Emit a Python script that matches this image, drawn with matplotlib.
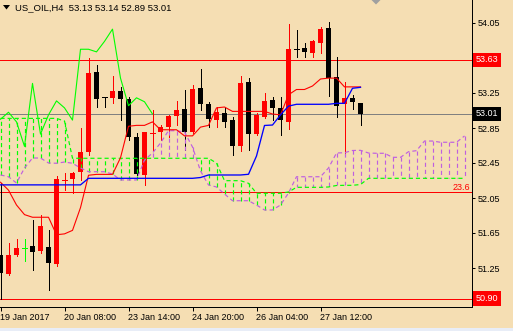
import matplotlib.pyplot as plt
from matplotlib.patches import Polygon, Rectangle

plt.rcParams['font.family'] = ['Liberation Sans', 'DejaVu Sans']

# H4 candles, bar 0 = left edge of the chart
opens = [51.40, 51.18, 51.40, 51.48, 51.50, 51.44, 51.49, 51.30, 52.255, 52.27,
         52.35, 52.58, 53.49, 53.20, 53.19, 53.27, 53.18, 52.75, 52.31, 52.79,
         52.80, 52.865, 52.99, 53.07, 52.80, 53.31, 53.12, 52.94, 53.02, 52.94,
         52.64, 53.375, 52.78, 52.98, 53.17, 53.075, 52.92, 53.755, 53.76, 53.71,
         53.825, 53.99, 53.435, 53.12, 53.195, 53.13]
highs = [52.22, 51.54, 51.58, 51.58, 51.80, 51.86, 51.68, 52.30, 52.34, 52.35,
         52.85, 53.65, 53.57, 53.21, 53.44, 53.32, 53.20, 52.79, 52.80, 53.06,
         52.89, 53.00, 53.16, 53.28, 53.34, 53.53, 53.15, 53.09, 53.075, 52.98,
         53.44, 53.42, 53.02, 53.25, 53.20, 53.21, 54.04, 53.97, 53.825, 53.855,
         54.00, 54.06, 53.665, 53.38, 53.23, 53.14]
lows = [50.90, 51.17, 51.39, 51.33, 51.23, 51.42, 51.00, 51.27, 52.14, 52.11,
        52.26, 52.54, 53.09, 53.09, 53.14, 52.94, 52.71, 52.31, 52.20, 52.60,
        52.71, 52.75, 52.89, 52.60, 52.79, 53.06, 52.86, 52.86, 52.86, 52.54,
        52.59, 52.60, 52.77, 52.97, 52.94, 52.77, 52.835, 53.66, 53.66, 53.66,
        53.71, 53.22, 52.98, 52.56, 53.07, 52.89]
closes = [51.19, 51.40, 51.48, 51.48, 51.43, 51.73, 51.31, 52.27, 52.26, 52.34,
          52.58, 53.48, 53.18, 53.195, 53.27, 53.18, 52.75, 52.32, 52.80, 52.795,
          52.865, 52.99, 53.06, 52.80, 53.30, 53.13, 52.95, 53.03, 52.92, 52.64,
          53.36, 52.78, 53.00, 53.16, 53.08, 52.94, 53.75, 53.75, 53.72, 53.84,
          53.98, 53.42, 53.105, 53.195, 53.15, 53.01]

# Ichimoku lines
tenkan = [52.23, 52.14, 51.97, 51.86, 51.83, 51.83, 51.83, 51.63, 51.64, 51.68,
          51.94, 52.31, 52.32, 52.32, 52.32, 52.51, 52.87, 52.88, 52.88, 52.92,
          52.83, 52.83, 52.83, 52.76, 52.76, 52.86, 52.88, 53.08, 53.09, 53.04,
          53.04, 53.04, 53.04, 53.04, 53.01, 53.00, 53.23, 53.29, 53.29, 53.33,
          53.41, 53.42, 53.42, 53.32, 53.32, 53.32]
kijun = [52.20] * 11 + [52.275] * 14 + [52.284, 52.313, 52.313, 52.313, 52.313,
         52.313, 52.321, 52.53, 52.879, 52.884, 53.00, 53.10, 53.121, 53.121,
         53.121, 53.121, 53.121, 53.132, 53.132, 53.304, 53.315]
span_a = [52.96] * 8 + [52.93] + [52.504] * 18 + [52.45, 52.248, 52.248, 52.248,
          52.218, 52.104, 52.104, 52.104, 52.104, 52.119, 52.172, 52.172, 52.172,
          52.172, 52.176, 52.193, 52.195, 52.195, 52.204] + [52.275] * 13
span_b = [52.313, 52.293, 52.221, 52.393, 52.507, 52.507, 52.45, 52.447, 52.461,
          52.447, 52.393, 52.35, 52.35, 52.35, 52.324, 52.256, 52.256, 52.256,
          52.484, 52.564, 52.679, 52.819, 52.819, 52.804, 52.633, 52.359, 52.199,
          52.176, 52.096, 52.019, 52.019, 52.019, 51.97, 51.913, 51.913, 51.97,
          52.107, 52.293, 52.293, 52.293, 52.293, 52.393, 52.564, 52.568, 52.593,
          52.595, 52.564, 52.561, 52.561, 52.515, 52.515, 52.579, 52.591, 52.701,
          52.701, 52.687, 52.687, 52.687, 52.759]
shift = 26

date_ticks = [0, 8, 16, 24, 32, 40]
date_labels = ['19 Jan 2017', '20 Jan 08:00', '23 Jan 14:00',
               '24 Jan 20:00', '26 Jan 04:00', '27 Jan 12:00']
price_ticks = [54.05, 53.25, 52.85, 52.45, 52.05, 51.65, 51.25, 50.85]
level_high = 53.63
level_fib = 52.12
level_low = 50.90
bid = closes[-1]

BG = '#F5DEB3'
RED = '#FF0000'
LIME = '#00FF00'
VIOLET = '#BF5FE0'
PX = 0.72  # one pixel in points at 100 dpi
DOT = (0, (3.5, 2.5))

fig = plt.figure(figsize=(5.13, 3.31), dpi=100, facecolor=BG)
ax = fig.add_axes([0, 24 / 331, 472 / 513, 307 / 331])
ax.set_facecolor(BG)
ax.set_xlim(-0.0625, 58.9375)
ax.set_ylim(54.05 - 284 / 87.5, 54.05 + 23 / 87.5)

# horizontal objects
ax.axhline(bid, color='#808080', lw=PX, zorder=1)
for lv in (level_high, level_fib, level_low):
    ax.axhline(lv, color=RED, lw=PX, zorder=1)

# candles
for i in range(len(opens)):
    o, h, l, c = opens[i], highs[i], lows[i], closes[i]
    if c > o:
        col = RED
    elif c < o:
        col = 'black'
    else:
        col = LIME
    ax.plot([i, i], [l, h], color=col, lw=PX, zorder=2)
    if abs(c - o) < 0.006:
        ax.plot([i - 0.3125, i + 0.3125], [o, o], color=col, lw=PX, zorder=3)
    else:
        ax.bar(i, abs(c - o), bottom=min(o, c), width=0.625, color=col,
               lw=0, zorder=3)

# kumo with vertical dotted hatching, one stroke per bar
for i, (a, b) in enumerate(zip(span_a, span_b)):
    ax.plot([i, i], [b, a], color=LIME if a >= b else VIOLET, lw=0.85,
            ls=DOT, zorder=4)
xs = list(range(len(span_a)))
ax.plot(xs, span_b, color=VIOLET, lw=0.85, ls=DOT, zorder=4)
ax.plot(xs, span_a, color=LIME, lw=0.85, ls=DOT, zorder=4)

# tenkan, kijun, chikou
bars = list(range(len(closes)))
ax.plot(bars, tenkan, color=RED, lw=0.8, zorder=5)
ax.plot(bars, kijun, color='#0000FF', lw=0.95, zorder=5)
ax.plot(bars[:len(closes) - shift], closes[shift:], color=LIME, lw=0.8, zorder=5)

# axes styling
for s in ('top', 'left'):
    ax.spines[s].set_visible(False)
for s in ('right', 'bottom'):
    ax.spines[s].set_linewidth(PX)
ax.yaxis.tick_right()
ax.set_yticks(price_ticks)
ax.set_yticklabels([f'{p:.2f}' for p in price_ticks])
ax.tick_params(axis='y', direction='out', length=2.2, width=PX, pad=2,
               labelsize=6.5, colors='black')
ax.set_xticks(date_ticks)
ax.set_xticklabels(date_labels)
for lbl in ax.get_xticklabels():
    lbl.set_ha('left')
ax.tick_params(axis='x', direction='out', length=2.9, width=PX, pad=1.2,
               labelsize=6.5)

# price boxes on the scale
ytr = ax.get_yaxis_transform()
for val, fc in ((level_high, RED), (bid, 'black'), (level_low, RED)):
    ax.text(1.0 + 4 / 472, val, f'{val:.2f}', transform=ytr, ha='left',
            va='center', fontsize=6.5, color='white', clip_on=False, zorder=10,
            bbox=dict(boxstyle='square,pad=0.3', fc=fc, ec='none'))
ax.text(1.0 - 2 / 472, level_fib, '23.6', transform=ytr, ha='right',
        va='bottom', fontsize=6.5, color=RED, zorder=10)

# header and chart-shift marker
over = fig.add_axes([0, 0, 1, 1], facecolor='none')
over.set_xlim(0, 513)
over.set_ylim(331, 0)
over.axis('off')
over.add_patch(Polygon([[3, 5], [10, 5], [6.5, 9.5]], closed=True, fc='black', ec='none'))
over.add_patch(Polygon([[371.5, 0], [380.5, 0], [376, 4.5]], closed=True, fc='#A0A0A0', ec='none'))
over.text(15, 10.7, 'US_OIL,H4  53.13 53.14 52.89 53.01', fontsize=6.8,
          va='baseline', ha='left', color='black')
over.add_patch(Rectangle((0, 327.5), 513, 4, fc='#E8EDF7', ec='none'))

fig.savefig('out.png', dpi=100, facecolor=BG)
